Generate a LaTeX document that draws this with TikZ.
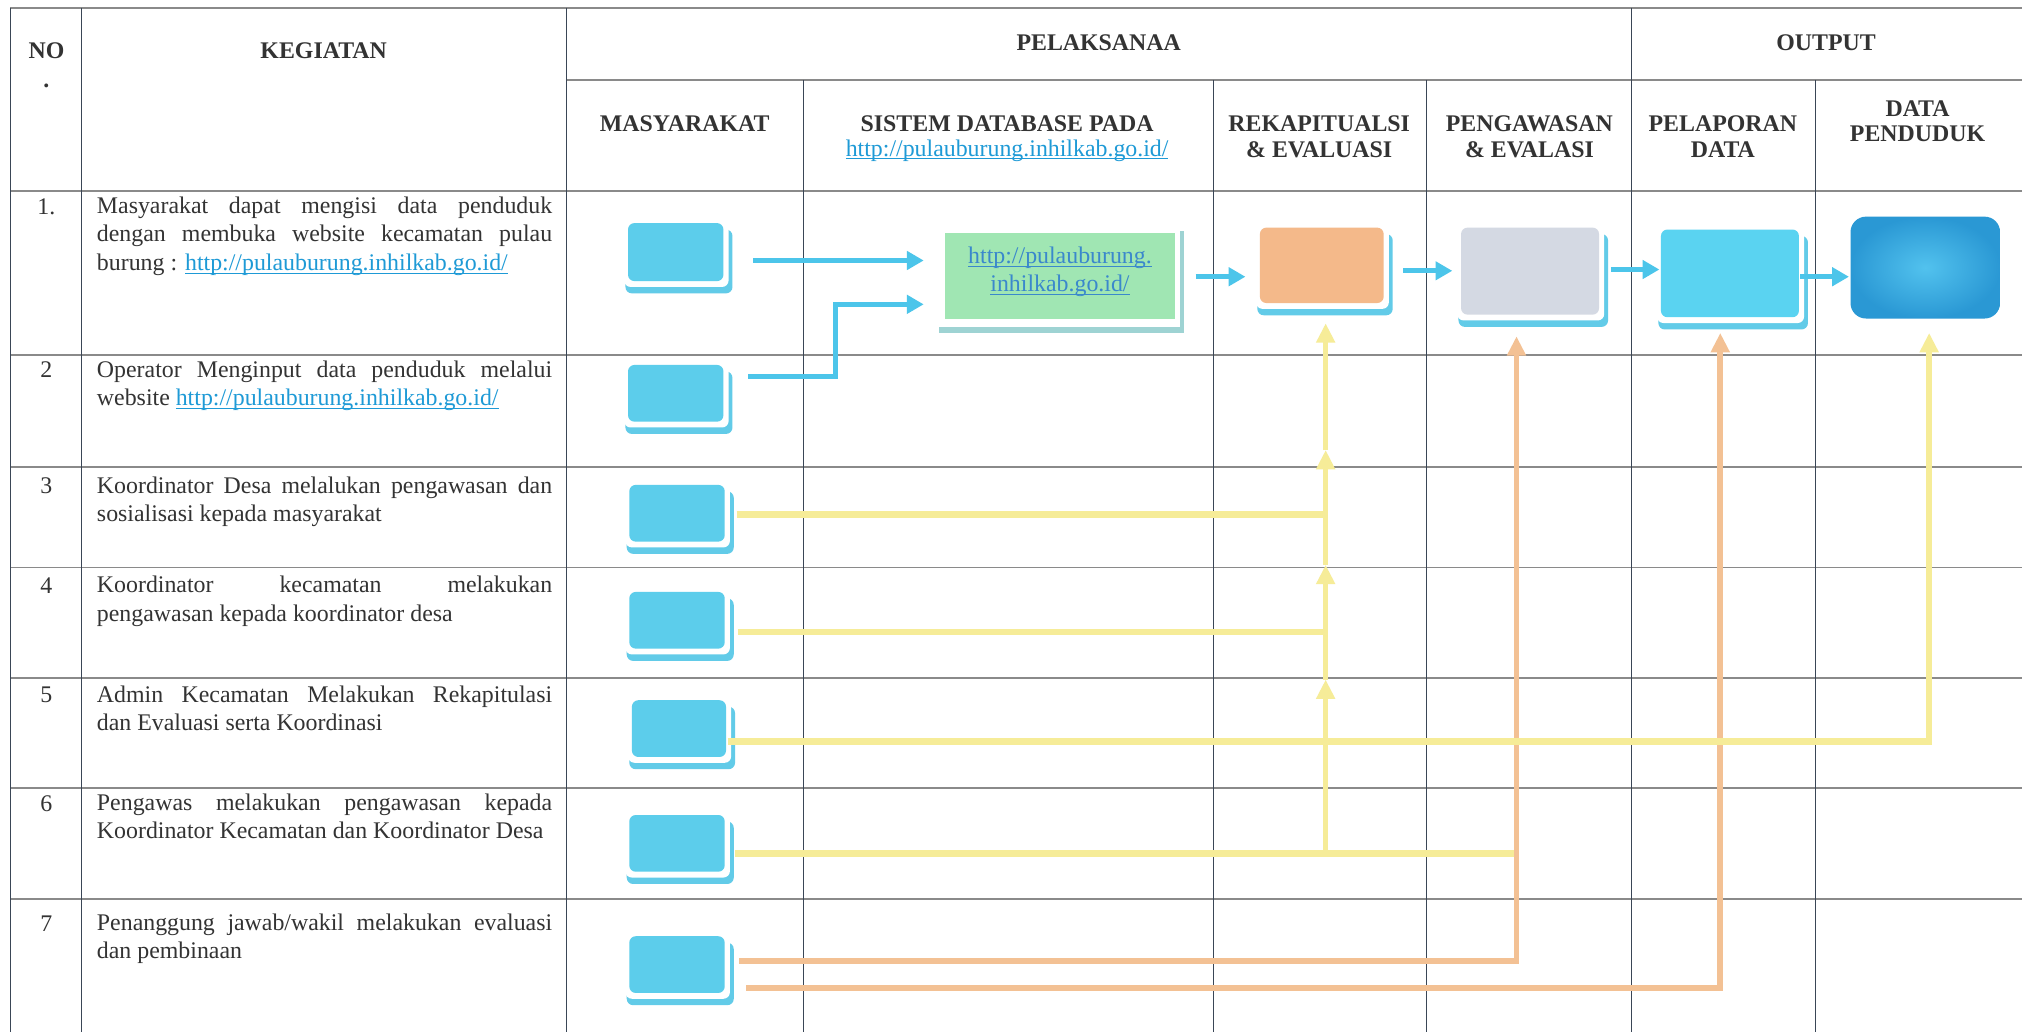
\documentclass[tikz,border=0pt]{standalone}
\usepackage{fontspec}
\setmainfont{Liberation Serif}
\usetikzlibrary{arrows.meta}

\definecolor{inkgrey}{HTML}{333333}
\definecolor{linkblue}{HTML}{1E9AD6}
\definecolor{dblink}{HTML}{3A88CC}
\definecolor{gridgrey}{HTML}{8A8A8A}
\definecolor{gridnavy}{HTML}{3A4656}
\definecolor{cardcyan}{HTML}{5CCDEB}
\definecolor{shadowcyan}{HTML}{62CBE8}
\definecolor{reportcyan}{HTML}{5AD3F1}
\definecolor{recapfill}{HTML}{F4B98A}
\definecolor{auditfill}{HTML}{D4D9E3}
\definecolor{dbgreen}{HTML}{A0E6B3}
\definecolor{dbshadow}{HTML}{9ED3D3}
\definecolor{datainner}{HTML}{52C2EE}
\definecolor{dataouter}{HTML}{2A98D4}
\definecolor{flowcyan}{HTML}{4CC5EA}
\definecolor{feedyellow}{HTML}{F6EC98}
\definecolor{feedorange}{HTML}{F3C194}

\newcommand\bodyfont{\fontsize{18.5pt}{22pt}\selectfont\hyphenpenalty=10000 \exhyphenpenalty=10000 }
\newcommand\hdrfont{\fontsize{18.5pt}{22pt}\selectfont\bfseries}
% underline sitting just below the baseline, in the current colour
\newcommand\ulink[1]{{\setbox0\hbox{#1}\rlap{\rule[-2.6pt]{\wd0}{0.8pt}}\box0}}
\newcommand\weblink[1]{\textcolor{linkblue}{\ulink{#1}}}

\tikzset{
  gridh/.style={draw=gridgrey, line width=1.4pt},
  gridv/.style={draw=gridnavy, line width=0.9pt},
  hdr/.style={font=\hdrfont, text=inkgrey, inner sep=0pt, anchor=base},
  hdrlink/.style={font=\bodyfont, inner sep=0pt, anchor=base},
  desc/.style={text width=353pt, align=justify, inner sep=0pt, anchor=north west,
               font=\bodyfont, text=inkgrey},
  num/.style={font=\bodyfont, text=inkgrey, inner sep=0pt, anchor=base},
  card/.style={rounded corners=5pt, inner sep=0pt, draw=none},
  flow/.style={draw=flowcyan, line width=4pt, -{Triangle[length=13pt,width=14pt]}},
  feedY/.style={draw=feedyellow, line width=5pt},
  feedO/.style={draw=feedorange, line width=4.5pt},
  tipY/.style={feedY, -{Triangle[length=15pt,width=14pt]}},
  tipO/.style={feedO, -{Triangle[length=15pt,width=14pt]}},
}

% stacked card: offset backing card, white gap, then the named face node
% #1 name, #2 x0, #3 y0, #4 x1, #5 y1, #6 face colour
\newcommand\stackcard[6]{%
  \fill[shadowcyan, rounded corners=5pt] (#2-2,#3+5) rectangle (#4+7,#5+9.5);
  \fill[white, rounded corners=5pt] (#2-3,#3-3) rectangle (#4+4,#5+4.5);
  \node[card, fill=#6, minimum width={(#4-#2)*1pt}, minimum height={(#5-#3)*1pt}]
    (#1) at ({(#2+#4)/2},{(#3+#5)/2}) {};
}

\begin{document}
\begin{tikzpicture}[x=1pt,y=-1pt]
\useasboundingbox (0,0) rectangle (1568,800);
\fill[white] (0,0) rectangle (1568,800);

% ---------- table grid ----------
\foreach \yy in {6,148,275,362,440,526,611,697}
  \draw[gridh] (8,\yy) -- (1568,\yy);
\draw[gridh] (439,62) -- (1568,62);
\foreach \xx in {8,63,439,1265}
  \draw[gridv] (\xx,6) -- (\xx,800);
\foreach \xx in {623,941,1106,1408}
  \draw[gridv] (\xx,62) -- (\xx,800);

% ---------- header ----------
\node[hdr] (h-no) at (36,45) {NO};
\node[hdr] (h-nodot) at (36,68) {.};
\node[hdr] (h-keg) at (251,45) {KEGIATAN};
\node[hdr] (h-pel) at (852,39) {PELAKSANAA};
\node[hdr] (h-out) at (1416,39) {OUTPUT};
\node[hdr] (h-mas) at (531,102) {MASYARAKAT};
\node[hdr] (h-sis) at (781,102) {SISTEM DATABASE PADA};
\node[hdrlink] (h-sislink) at (781,121) {\weblink{http://pulauburung.inhilkab.go.id/}};
\node[hdr] (h-rek1) at (1023,102) {REKAPITUALSI};
\node[hdr] (h-rek2) at (1023,122) {\& EVALUASI};
\node[hdr] (h-pen1) at (1186,102) {PENGAWASAN};
\node[hdr] (h-pen2) at (1186,122) {\& EVALASI};
\node[hdr] (h-lap1) at (1336,102) {PELAPORAN};
\node[hdr] (h-lap2) at (1336,122) {DATA};
\node[hdr] (h-dat1) at (1487,90) {DATA};
\node[hdr] (h-dat2) at (1487,110) {PENDUDUK};

% ---------- row numbers ----------
\node[num] (n1) at (36,166) {1.};
\node[num] (n2) at (36,293) {2};
\node[num] (n3) at (36,383) {3};
\node[num] (n4) at (36,460) {4};
\node[num] (n5) at (36,545) {5};
\node[num] (n6) at (36,629) {6};
\node[num] (n7) at (36,722) {7};

% ---------- activities ----------
\node[desc] (k1) at (75,150) {\strut Masyarakat dapat mengisi data penduduk\linebreak
  dengan membuka website kecamatan pulau\linebreak
  burung : \weblink{http://pulauburung.inhilkab.go.id/}};
\node[desc] (k2) at (75,277) {\strut Operator Menginput data penduduk melalui\linebreak
  website \weblink{http://pulauburung.inhilkab.go.id/}};
\node[desc] (k3) at (75,367) {\strut Koordinator Desa melalukan pengawasan dan\linebreak
  sosialisasi kepada masyarakat};
\node[desc] (k4) at (75,444) {\strut Koordinator kecamatan melakukan\linebreak
  pengawasan kepada koordinator desa};
\node[desc] (k5) at (75,529) {\strut Admin Kecamatan Melakukan Rekapitulasi\linebreak
  dan Evaluasi serta Koordinasi};
\node[desc] (k6) at (75,613) {\strut Pengawas melakukan pengawasan kepada\linebreak
  Koordinator Kecamatan dan Koordinator Desa};
\node[desc] (k7) at (75,706) {\strut Penanggung jawab/wakil melakukan evaluasi\linebreak
  dan pembinaan};

% ---------- actor cards (MASYARAKAT column) ----------
\stackcard{m1}{487}{173}{561}{218}{cardcyan}
\stackcard{m2}{487}{283}{561}{327}{cardcyan}
\stackcard{m3}{488}{376}{562}{420}{cardcyan}
\stackcard{m4}{488}{459}{562}{503}{cardcyan}
\stackcard{m5}{490}{543}{563}{587}{cardcyan}
\stackcard{m6}{488}{632}{562}{676}{cardcyan}
\stackcard{m7}{488}{726}{562}{770}{cardcyan}

% ---------- database card ----------
\fill[dbshadow] (728,179) rectangle (918,258);
\fill[white] (726,177) rectangle (915,253.5);
\node[fill=dbgreen, inner sep=0pt, minimum width=178pt, minimum height=66pt] (db) at (822,214) {};
\node[font=\bodyfont, text=dblink, align=center, inner sep=0pt] (dbtext) at (822,211)
  {\ulink{http://pulauburung.}\\\ulink{inhilkab.go.id/}};

% ---------- process cards ----------
\stackcard{rekap}{977}{176.5}{1073}{235}{recapfill}
\stackcard{peng}{1133}{176.5}{1240}{244}{auditfill}
\stackcard{pelap}{1288}{178}{1395}{246}{reportcyan}
\node[inner sep=0pt, rounded corners=12pt, inner color=datainner, outer color=dataouter,
      minimum width=116pt, minimum height=79pt] (data) at (1493,207.5) {};

% ---------- main flow ----------
\draw[flow, shorten <=23pt, shorten >=16.5pt] (m1.east |- 0,202) -- (db.west |- 0,202);
\coordinate (bend2) at (648,236);
\draw[flow, shorten <=19pt, shorten >=16.5pt] (m2.east |- 0,292) -| (bend2) -- (db.west |- bend2);
\draw[flow, shorten <=16pt, shorten >=11pt] (db.east |- 0,214.6) -- (rekap.west |- 0,214.6);
\draw[flow, shorten <=15pt, shorten >=6.6pt] (rekap.east |- 0,210) -- (peng.west |- 0,210);
\draw[flow, shorten <=9pt, shorten >=1pt] (peng.east |- 0,209) -- (pelap.west |- 0,209);
\draw[flow, shorten <=1pt, shorten >=1pt] (pelap.east |- 0,214.6) -- (data.west |- 0,214.6);

% ---------- feedback connectors ----------
\coordinate (j3) at (1028,399);
\coordinate (j4) at (1028,490);
\coordinate (j6) at (1028,662);
\coordinate (s1) at (1028,527);
\coordinate (s2) at (1028,438);
\coordinate (s3) at (1028,349);
\coordinate (k6end) at (1176,662);
\coordinate (e7) at (1176,745);
\coordinate (f7) at (1334,766);
\coordinate (d5) at (1496,575);

\draw[feedY, shorten <=8pt] (m6.east |- j6) -- (k6end);
\draw[tipO, shorten <=11pt, shorten >=16.6pt] (m7.east |- e7) -- (e7) -- (e7 |- peng.south);
\draw[tipO, shorten <=16.5pt, shorten >=12pt] (m7.east |- f7) -- (f7) -- (f7 |- pelap.south);
\draw[tipY, shorten <=1pt, shorten >=11pt] (m5.east |- d5) -- (d5) -- (d5 |- data.south);
\draw[feedY, shorten <=9pt] (m3.east |- j3) -- (j3);
\draw[feedY, shorten <=10pt] (m4.east |- j4) -- (j4);
\draw[tipY, line width=4pt] (j6) -- (s1);
\draw[tipY, line width=4pt] (s1) -- (s2);
\draw[tipY, line width=4pt] (s2) -- (s3);
\draw[tipY, line width=4pt, shorten >=15.5pt] (s3) -- (s3 |- rekap.south);
\end{tikzpicture}
\end{document}
